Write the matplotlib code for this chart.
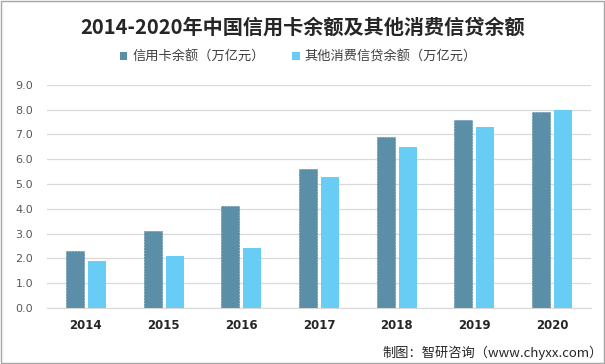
import matplotlib.pyplot as plt
import numpy as np
from matplotlib.patches import Patch, Rectangle

plt.rcParams['font.family'] = ['Noto Sans CJK SC', 'DejaVu Sans']

years = ['2014', '2015', '2016', '2017', '2018', '2019', '2020']
credit_card = [2.3, 3.1, 4.1, 5.6, 6.9, 7.6, 7.9]
other_consumer = [1.9, 2.1, 2.4, 5.3, 6.5, 7.3, 8.0]
series_names = ['信用卡余额（万亿元）', '其他消费信贷余额（万亿元）']
yticks = [0, 1, 2, 3, 4, 5, 6, 7, 8, 9]

dark = '#5B8FA8'
light = '#68CDF4'

fig = plt.figure(figsize=(6.05, 3.64), dpi=100)
ax = fig.add_axes([0.0777, 0.154, 0.899, 0.613])

x = np.arange(len(years))
w = 0.232
ax.bar(x - w / 2 - 0.026, credit_card, w, color=dark, edgecolor='#4A7C95',
       linewidth=0.4, linestyle='--', zorder=3)
ax.bar(x + w / 2 + 0.026, other_consumer, w, color=light, zorder=3)

ax.set_xlim(-0.5, len(years) - 0.5)
ax.set_ylim(0, 9)
ax.set_yticks(yticks)
ax.set_yticklabels([f'{v:.1f}' for v in yticks], fontsize=8, color='#595959',
                   family='DejaVu Sans')
ax.set_xticks(x)
ax.set_xticklabels(years, fontsize=8.5, fontweight='bold', color='#262626',
                   family='DejaVu Sans')
ax.tick_params(axis='y', length=0, pad=10)
ax.tick_params(axis='x', length=0, pad=8)
ax.grid(axis='y', color='#D9D9D9', linewidth=0.9, zorder=0)
for s in ['top', 'right', 'left']:
    ax.spines[s].set_visible(False)
ax.spines['bottom'].set_color('#D9D9D9')

fig.text(0.5, 0.925, '2014-2020年中国信用卡余额及其他消费信贷余额', ha='center',
         va='center', fontsize=14.5, fontweight='bold', color='#262626')

handles = [Patch(facecolor=dark), Patch(facecolor=light)]
fig.legend(handles, series_names, loc='center', bbox_to_anchor=(0.493, 0.843),
           ncol=2, frameon=False, fontsize=9.5, handlelength=0.6,
           handleheight=0.6, handletextpad=0.4, columnspacing=2.0,
           labelcolor='#404040')

fig.text(0.997, 0.032, '制图：智研咨询（www.chyxx.com）', ha='right', va='center',
         fontsize=9.5, color='#262626')

fig.patches.append(Rectangle((0.001, 0.002), 0.997, 0.995, transform=fig.transFigure,
                             fill=False, edgecolor='#A6A6A6', linewidth=1))

fig.savefig('out.png', dpi=100)
